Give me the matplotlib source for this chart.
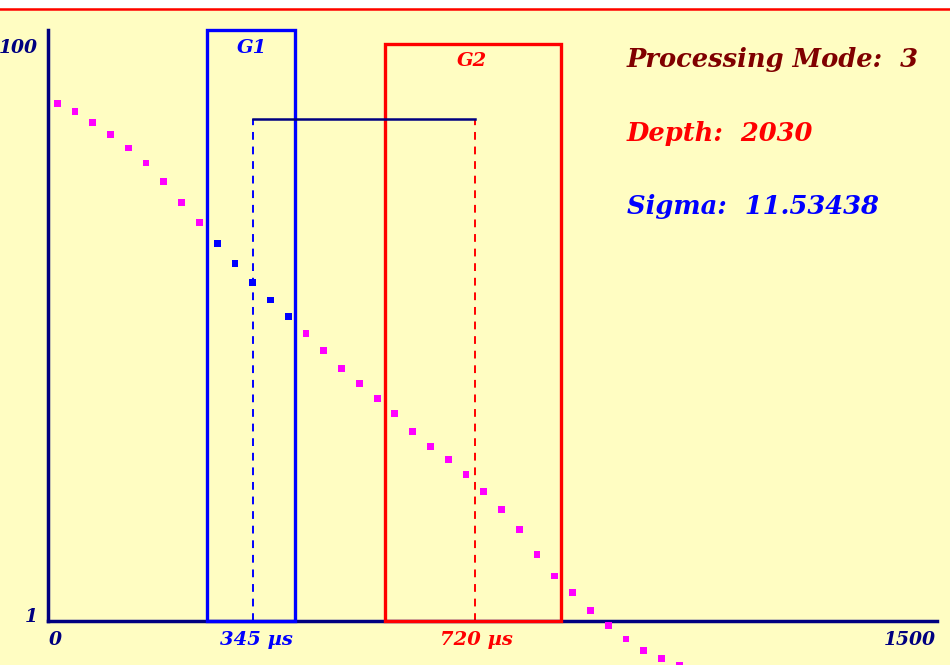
import matplotlib.pyplot as plt
from matplotlib.patches import Rectangle
from matplotlib.lines import Line2D

# ------------------------------------------------------------
# data
# ------------------------------------------------------------
times = [15, 45, 75, 105, 135, 165, 195, 225, 255, 285, 315, 345,
         375, 405, 435, 465, 495, 525, 555, 585, 615, 645, 675, 705,
         735, 765, 795, 825, 855, 885, 915, 945, 975, 1005, 1035, 1065]
amps = [56.5, 52.9, 48.5, 44.2, 39.9, 35.5, 30.8, 26.0, 22.3, 18.9,
        16.2, 14.0, 12.2, 10.7, 9.38, 8.24, 7.14, 6.35, 5.67, 5.05,
        4.37, 3.90, 3.51, 3.13, 2.75, 2.39, 2.04, 1.68, 1.42, 1.25,
        1.087, 0.964, 0.869, 0.796, 0.746, 0.706]

gate_names = ["G1", "G2"]
gate_start = [268, 568]
gate_end = [417, 865]
gate_height = [100, 90]
gate_colors = ["#0000FF", "#FF0000"]

marker_times = [345, 720]
marker_level = 50

info_lines = ["Processing Mode:  3", "Depth:  2030", "Sigma:  11.53438"]
info_colors = ["#800000", "#FF0000", "#0000FF"]

bg = "#FFFDC2"
navy = "#000080"
font = dict(family="DejaVu Serif", weight="bold", style="italic")

W, H = 950, 665


def label(x, y, txt, color, size, ha="left"):
    # place text by pixel position (baseline) in the figure
    fig.text(x / W, 1 - y / H, txt, color=color, ha=ha, va="baseline",
             fontsize=size, **font)


# ------------------------------------------------------------
# figure
# ------------------------------------------------------------
fig = plt.figure(figsize=(9.5, 6.65), dpi=100, facecolor=bg)
fig.patches.append(Rectangle((0, 1 - 8 / H), 1, 8 / H, transform=fig.transFigure,
                             facecolor="white", edgecolor="none", zorder=0))
fig.add_artist(Line2D([0, 1], [1 - 8.5 / H] * 2, color="red", lw=1.8))

ax = fig.add_axes([48.3 / W, 44 / H, (937 - 48.3) / W, (621 - 30) / H])
ax.set_facecolor(bg)
ax.set_yscale("log")
ax.set_xlim(0, 1500)
ax.set_ylim(1, 100)
for s in ["top", "right"]:
    ax.spines[s].set_visible(False)
for s in ["left", "bottom"]:
    ax.spines[s].set_color(navy)
    ax.spines[s].set_linewidth(2.5)
ax.set_xticks([])
ax.set_yticks([])
ax.minorticks_off()

# gates
for x0, x1, h, c in zip(gate_start, gate_end, gate_height, gate_colors):
    ax.add_patch(Rectangle((x0, 1), x1 - x0, h - 1, fill=False, edgecolor=c,
                           lw=2.4, clip_on=False, zorder=3))

# measurement markers
ax.plot(marker_times, [marker_level] * 2, color=navy, lw=1.8, zorder=4)
for t, c in zip(marker_times, gate_colors):
    ax.plot([t, t], [1, marker_level], color=c, lw=1.4, ls=(0, (4, 3.5)), zorder=2)

# samples: blue inside G1, magenta elsewhere
cols = ["#0000FF" if gate_start[0] <= t <= gate_end[0] else "#FF00FF" for t in times]
ax.scatter(times, amps, marker="s", s=24, c=cols, linewidths=0, clip_on=False, zorder=5)

# gate names
label(252, 53, gate_names[0], gate_colors[0], 14, ha="center")
label(472, 66, gate_names[1], gate_colors[1], 14, ha="center")

# axis labels
label(38, 53, "100", navy, 13.5, ha="right")
label(38, 622, "1", navy, 13.5, ha="right")
label(49, 645, "0", navy, 13.5)
label(936, 645, "1500", navy, 13.5, ha="right")
label(256, 645, f"{marker_times[0]} \u00b5s", gate_colors[0], 14, ha="center")
label(476, 645, f"{marker_times[1]} \u00b5s", gate_colors[1], 14, ha="center")

# info block
for i, (txt, c) in enumerate(zip(info_lines, info_colors)):
    label(627, 67 + 73.5 * i, txt, c, 18.5)

fig.savefig("out.png", dpi=100, facecolor=bg)
